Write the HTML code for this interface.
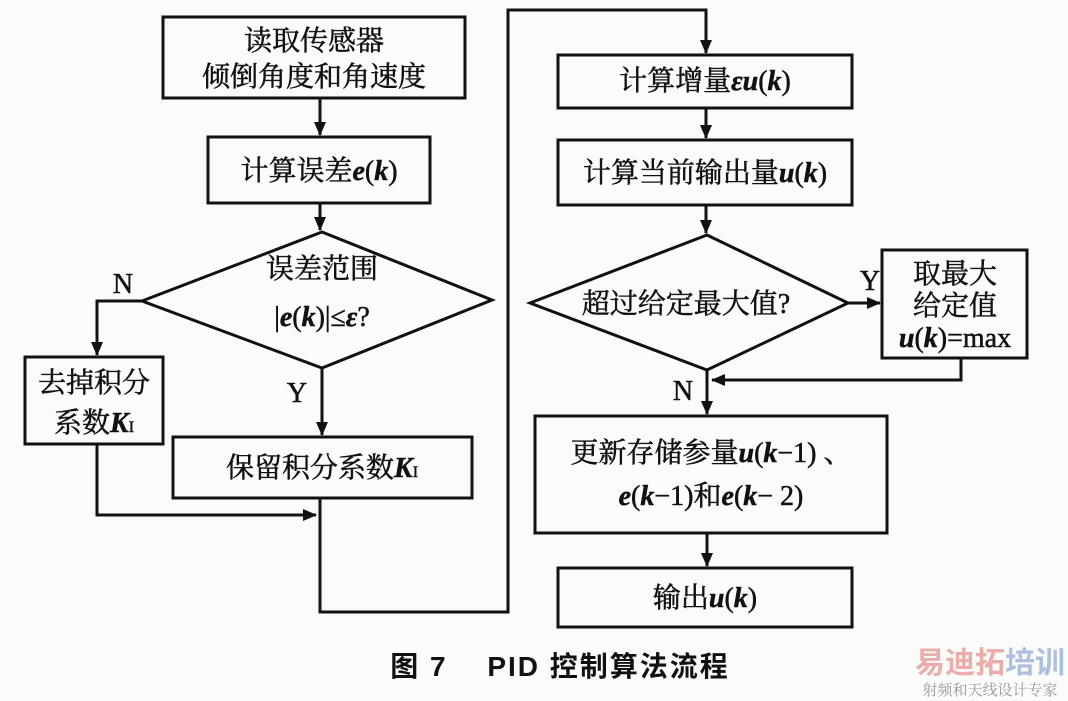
<!DOCTYPE html>
<html><head><meta charset="utf-8"><style>
html,body{margin:0;padding:0;background:#fbfbf9;}
svg{display:block}
text{font-family:"Liberation Serif","Noto Serif CJK SC",serif;fill:#111;}
.t{font-size:28px;stroke:#111;stroke-width:0.5px;}
.i{font-style:italic;font-weight:bold;}
</style></head><body>
<svg width="1068" height="701" viewBox="0 0 1068 701" xmlns="http://www.w3.org/2000/svg">
<defs><marker id="a" markerWidth="14" markerHeight="12" refX="13" refY="6" orient="auto" markerUnits="userSpaceOnUse"><path d="M0,0 L14,6 L0,12 z" fill="#111"/></marker></defs>
<g fill="none" stroke="#111" stroke-width="3">
<rect x="163" y="17" width="302" height="81"/>
<rect x="208" y="137" width="222" height="66"/>
<polygon points="142,301 322,232 492,300 322,368"/>
<rect x="25" y="357" width="138" height="87"/>
<rect x="173" y="437" width="299" height="61"/>
<rect x="558" y="55" width="294" height="53"/>
<rect x="558" y="140" width="294" height="65"/>
<polygon points="530,303 707,235 848,303 707,370"/>
<rect x="882" y="250" width="145" height="108"/>
<rect x="535" y="416" width="352" height="117"/>
<rect x="558" y="568" width="294" height="59"/>
<line x1="320" y1="98" x2="320" y2="135" marker-end="url(#a)"/>
<line x1="320" y1="203" x2="320" y2="230" marker-end="url(#a)"/>
<polyline points="142,301 97,301 97,355" marker-end="url(#a)"/>
<line x1="322" y1="368" x2="322" y2="435" marker-end="url(#a)"/>
<polyline points="97,444 97,515 316,515" marker-end="url(#a)"/>
<polyline points="320,498 320,612 508,612 508,10 706,10 706,53" marker-end="url(#a)"/>
<line x1="706" y1="108" x2="706" y2="138" marker-end="url(#a)"/>
<line x1="706" y1="205" x2="706" y2="233" marker-end="url(#a)"/>
<line x1="848" y1="303" x2="880" y2="303" marker-end="url(#a)"/>
<polyline points="961,358 961,380 712,380" marker-end="url(#a)"/>
<line x1="707" y1="370" x2="707" y2="414" marker-end="url(#a)"/>
<line x1="707" y1="533" x2="707" y2="566" marker-end="url(#a)"/>
</g>
<g class="t" text-anchor="middle">
<text x="314" y="50">读取传感器</text>
<text x="314" y="86">倾倒角度和角速度</text>
<text x="319" y="180">计算误差<tspan class="i">e</tspan>(<tspan class="i">k</tspan>)</text>
<text x="322" y="278">误差范围</text>
<text x="322" y="326">|<tspan class="i">e</tspan>(<tspan class="i">k</tspan>)|≤<tspan class="i">ε</tspan>?</text>
<text x="94" y="392">去掉积分</text>
<text x="94" y="432">系数<tspan class="i">K</tspan><tspan font-size="16">I</tspan></text>
<text x="322" y="477">保留积分系数<tspan class="i">K</tspan><tspan font-size="16">I</tspan></text>
<text x="705" y="90">计算增量<tspan class="i">εu</tspan>(<tspan class="i">k</tspan>)</text>
<text x="705" y="182">计算当前输出量<tspan class="i">u</tspan>(<tspan class="i">k</tspan>)</text>
<text x="686" y="313">超过给定最大值?</text>
<text x="955" y="283">取最大</text>
<text x="955" y="315">给定值</text>
<text x="955" y="347"><tspan class="i">u</tspan>(<tspan class="i">k</tspan>)=max</text>
<text x="711" y="462">更新存储参量<tspan class="i">u</tspan>(<tspan class="i">k</tspan>−1) 、</text>
<text x="711" y="505"><tspan class="i">e</tspan>(<tspan class="i">k</tspan>−1)和<tspan class="i">e</tspan>(<tspan class="i">k</tspan>− 2)</text>
<text x="705" y="607">输出<tspan class="i">u</tspan>(<tspan class="i">k</tspan>)</text>
<text x="123" y="293">N</text>
<text x="297" y="402">Y</text>
<text x="870" y="290">Y</text>
<text x="683" y="400">N</text>
</g>
<text x="560" y="676" text-anchor="middle" style="font-family:'Liberation Sans','Noto Sans CJK SC',sans-serif;font-size:28px;font-weight:bold;letter-spacing:2px">图 7　 PID 控制算法流程</text>
<text x="990" y="673" text-anchor="middle" style="font-family:'Liberation Sans','Noto Sans CJK SC',sans-serif;font-size:30px;font-weight:bold;fill:#e89a9a;opacity:0.8">易迪拓<tspan fill="#9ab0d8">培训</tspan></text>
<text x="990" y="695" text-anchor="middle" style="font-family:'Noto Serif CJK SC',serif;font-size:15px;fill:#999">射频和天线设计专家</text>
</svg>
</body></html>
